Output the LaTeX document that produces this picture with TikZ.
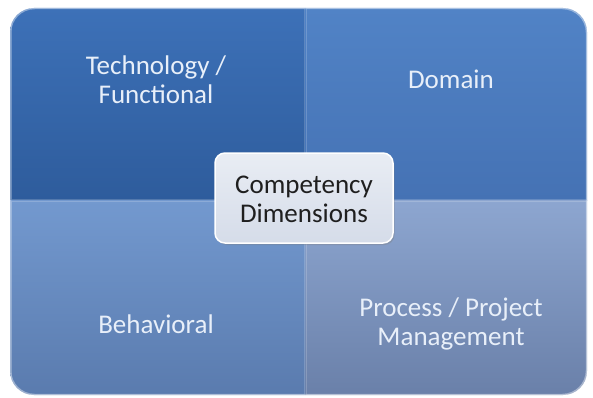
\documentclass[tikz,border=0pt]{standalone}
\usepackage{fontspec}
\setmainfont{Carlito}
\usetikzlibrary{shadows}
\definecolor{tlTop}{HTML}{3D71B8}
\definecolor{tlBot}{HTML}{2E5C9C}
\definecolor{trTop}{HTML}{5183C6}
\definecolor{trBot}{HTML}{4572B4}
\definecolor{blTop}{HTML}{7399CF}
\definecolor{blBot}{HTML}{5A7BAE}
\definecolor{brTop}{HTML}{8DA6D0}
\definecolor{brBot}{HTML}{6A80A9}
\definecolor{txtLight}{HTML}{E8EFF9}
\definecolor{ctrTop}{HTML}{E9EDF4}
\definecolor{ctrBot}{HTML}{D5DCE9}
\tikzset{
  quadtext/.style={text=txtLight, align=center, font=\fontsize{27}{29}\selectfont},
  quadedge/.style={draw=white, draw opacity=0.18, line width=1pt},
  ctrbox/.style={rounded corners=10pt, top color=ctrTop, bottom color=ctrBot,
    draw=white, line width=1.5pt, drop shadow={opacity=0.35, shadow xshift=1.5pt, shadow yshift=-2pt}},
}
\begin{document}
\begin{tikzpicture}[x=1pt,y=-1pt]
\useasboundingbox (0,0) rectangle (593,398);
\fill[white] (0,0) rectangle (593,398);
\begin{scope}
  \clip[rounded corners=24pt] (10,8) rectangle (587,395);
  \shade[top color=tlTop, bottom color=tlBot] (10,8) rectangle (305,200);
  \shade[top color=trTop, bottom color=trBot] (305,8) rectangle (587,200);
  \shade[top color=blTop, bottom color=blBot] (10,200) rectangle (305,395);
  \shade[top color=brTop, bottom color=brBot] (305,200) rectangle (587,395);
  \draw[quadedge] (11,9) rectangle (304,199);
  \draw[quadedge] (306,9) rectangle (586,199);
  \draw[quadedge] (11,201) rectangle (304,394);
  \draw[quadedge] (306,201) rectangle (586,394);
\end{scope}
\draw[white, draw opacity=0.4, line width=1.5pt, rounded corners=24pt] (10.5,8.5) rectangle (586.5,394.5);
\node[quadtext] (tech) at (156,80) {Technology /\\Functional};
\node[quadtext] (domain) at (451,79) {Domain};
\node[quadtext] (behav) at (156,324) {Behavioral};
\node[quadtext] (proc) at (451,324) {Process / Project\\Management};
\path[ctrbox] (215,153) rectangle (393,243);
\node[align=center, text=black!88, font=\fontsize{27}{29}\selectfont] (center) at (304,199) {Competency\\Dimensions};
\end{tikzpicture}
\end{document}
